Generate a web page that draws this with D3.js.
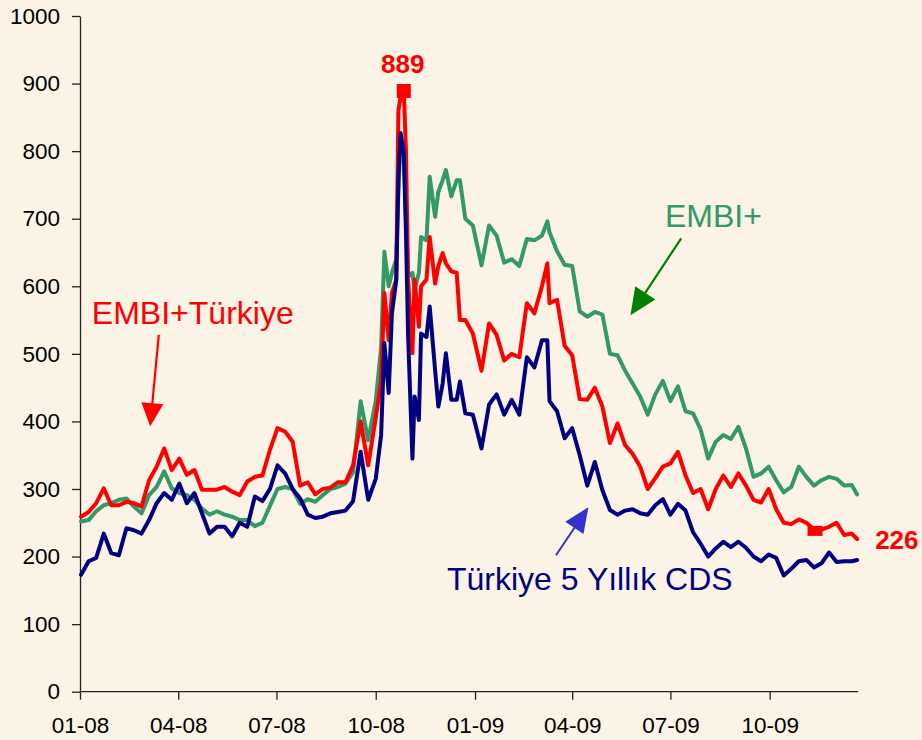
<!DOCTYPE html>
<html>
<head>
<meta charset="utf-8">
<script src="https://cdn.jsdelivr.net/npm/d3@7"></script>
<style>
html,body{margin:0;padding:0;background:#FAF3E6;}
svg{display:block;}
text{font-family:"Liberation Sans",Arial,Helvetica,sans-serif;}
</style>
</head>
<body>
<svg id="chart" width="922" height="740"></svg>
<script>
// ---------- DATA ----------
const dates = [
"2008-01-02","2008-01-09","2008-01-16","2008-01-23","2008-01-30","2008-02-06","2008-02-13","2008-02-20","2008-02-27","2008-03-05",
"2008-03-12","2008-03-19","2008-03-26","2008-04-02","2008-04-09","2008-04-16","2008-04-23","2008-04-30","2008-05-07","2008-05-14",
"2008-05-21","2008-05-28","2008-06-04","2008-06-11","2008-06-18","2008-06-25","2008-07-02","2008-07-09","2008-07-16","2008-07-23",
"2008-07-30","2008-08-06","2008-08-13","2008-08-20","2008-08-27","2008-09-03","2008-09-10","2008-09-17","2008-09-24","2008-10-01",
"2008-10-06","2008-10-09","2008-10-13","2008-10-16","2008-10-20","2008-10-22","2008-10-24","2008-10-27","2008-10-29","2008-10-31",
"2008-11-04","2008-11-06","2008-11-10","2008-11-12","2008-11-17","2008-11-20","2008-11-25","2008-11-28",
"2008-12-02","2008-12-05","2008-12-10","2008-12-15","2008-12-18","2008-12-23","2008-12-30",
"2009-01-07","2009-01-14","2009-01-21","2009-01-28","2009-02-04","2009-02-11","2009-02-18","2009-02-25",
"2009-03-04","2009-03-09","2009-03-11","2009-03-18","2009-03-25","2009-04-01","2009-04-08","2009-04-15","2009-04-22","2009-04-29",
"2009-05-06","2009-05-13","2009-05-20","2009-05-27","2009-06-03","2009-06-10","2009-06-17","2009-06-24",
"2009-07-01","2009-07-08","2009-07-15","2009-07-22","2009-07-29","2009-08-05","2009-08-12","2009-08-19","2009-08-26",
"2009-09-02","2009-09-09","2009-09-16","2009-09-23","2009-09-30","2009-10-07","2009-10-14","2009-10-21","2009-10-28",
"2009-11-04","2009-11-11","2009-11-18","2009-11-25","2009-12-02","2009-12-09","2009-12-16","2009-12-21"
];

// EMBI+Türkiye
const embiTurkey = [
259,266,279,301,276,276,281,279,274,313,
333,360,328,345,321,328,299,299,299,303,
296,291,311,318,320,358,390,385,370,305,
310,292,300,302,310,310,335,400,335,405,
460,590,520,590,610,860,880,889,800,610,
501,610,540,600,610,673,604,630,
649,634,622,620,550,550,530,
475,545,528,490,500,495,575,560,
600,634,575,580,512,498,433,432,450,422,
368,397,365,352,333,300,316,333,
338,355,320,294,300,270,300,320,303,
323,305,284,280,300,270,250,248,255,
250,240,240,244,250,232,234,226
];

// EMBI+
const embiPlus = [
252,254,267,276,279,284,286,274,264,291,
303,326,301,294,291,284,271,262,267,262,
259,254,254,245,250,275,300,303,300,278,
285,281,291,300,303,308,325,430,372,430,
510,651,600,620,640,740,820,800,700,614,
620,595,620,673,668,762,703,740,
757,772,733,757,757,700,690,
631,690,675,635,640,630,670,668,
675,696,680,652,632,630,563,555,562,558,
500,498,475,456,437,410,440,460,
430,452,415,412,388,345,370,380,374,
392,360,318,323,333,313,295,303,333,
318,305,313,318,315,305,306,292
];

// Türkiye 5 Yıllık CDS
const cds5y = [
173,193,198,234,205,202,242,239,234,254,
279,294,284,308,279,294,264,234,244,244,
230,250,244,289,282,300,335,323,300,286,
262,257,259,264,266,268,282,355,284,315,
380,516,442,560,609,760,827,797,680,526,
345,437,402,530,525,570,476,422,
456,501,432,432,459,412,410,
360,425,440,410,432,410,495,480,
520,520,430,415,375,390,350,305,340,298,
269,262,268,270,264,262,276,285,
262,278,268,236,219,200,212,222,214,
222,213,200,193,203,198,172,182,193,
195,184,190,206,192,193,193,195
];

const yTicks = [0,100,200,300,400,500,600,700,800,900,1000];
const xTickDates = ["2008-01-01","2008-04-01","2008-07-01","2008-10-01","2009-01-01","2009-04-01","2009-07-01","2009-10-01"];
const xTickLabels = ["01-08","04-08","07-08","10-08","01-09","04-09","07-09","10-09"];

const seriesNames = ["EMBI+","EMBI+Türkiye","Türkiye 5 Yıllık CDS"];
const seriesColors = ["#339966","#FF0000","#000080"];

// annotations (in data space)
const peakDate = "2008-10-27", peakValue = 889;
const lowMarkDate = "2009-11-12", lowMarkValue = 238;
const lastValue = 226;

// ---------- CHART ----------
const parse = d3.utcParse("%Y-%m-%d");
const svg = d3.select("#chart");
const W = 922, H = 740;
svg.append("rect").attr("width",W).attr("height",H).attr("fill","#FAF3E6");

const x = d3.scaleUtc()
  .domain([parse("2008-01-01"), parse("2009-10-01")])
  .range([80, 769.7]);
const y = d3.scaleLinear().domain([0,1000]).range([691.7, 16]);

const axisColor = "#222";

// Y axis
const gy = svg.append("g").attr("transform","translate(80,0)")
  .call(d3.axisLeft(y).tickValues(yTicks).tickSize(8).tickSizeOuter(0).tickPadding(12).tickFormat(d3.format("d")));
gy.selectAll("path").attr("stroke",axisColor).attr("stroke-width",1.3);
gy.selectAll("line").attr("stroke",axisColor).attr("stroke-width",1.3);
gy.selectAll("text").attr("font-size",22.5).attr("fill","#000")
  .style("font-family",'"Liberation Sans",Arial,sans-serif');

// X axis
const gx = svg.append("g").attr("transform","translate(0,691.7)")
  .call(d3.axisBottom(x).tickValues(xTickDates.map(parse)).tickSize(8).tickSizeOuter(0).tickPadding(17)
    .tickFormat((d,i)=>xTickLabels[i]));
gx.select("path.domain").remove();
gx.selectAll("line").attr("stroke",axisColor).attr("stroke-width",1.3);
gx.selectAll("text").attr("font-size",22.5).attr("fill","#000")
  .style("font-family",'"Liberation Sans",Arial,sans-serif');
const lastDate = parse(dates[dates.length-1]);
svg.append("line")
  .attr("x1",x.range()[0]).attr("x2",x(lastDate)+1)
  .attr("y1",y(0)).attr("y2",y(0))
  .attr("stroke",axisColor).attr("stroke-width",1.3);

// Series
const series = [embiPlus, embiTurkey, cds5y].map((vals,i)=>({
  name: seriesNames[i], color: seriesColors[i],
  values: vals.map((v,j)=>({date: parse(dates[j]), v}))
}));
const line = d3.line().x(d=>x(d.date)).y(d=>y(d.v)).curve(d3.curveLinear);
svg.append("g").selectAll("path").data(series).join("path")
  .attr("d", d=>line(d.values))
  .attr("fill","none")
  .attr("stroke", d=>d.color)
  .attr("stroke-width",4)
  .attr("stroke-linejoin","round")
  .attr("stroke-linecap","round");

// Markers
svg.append("rect")
  .attr("x", x(parse(peakDate))-7).attr("y", y(peakValue)-7)
  .attr("width",14).attr("height",14).attr("fill","#FF0000");
svg.append("rect")
  .attr("x", x(parse(lowMarkDate))-7.5).attr("y", y(lowMarkValue)-5)
  .attr("width",15).attr("height",10).attr("fill","#FF0000");

// Value labels
svg.append("text").attr("x", x(parse(peakDate))-1).attr("y", y(peakValue)-18)
  .attr("text-anchor","middle").attr("font-size",26).attr("font-weight","bold")
  .attr("fill","#FF0000").text(String(peakValue));
svg.append("text").attr("x", x(lastDate)+18).attr("y", y(lastValue)+10)
  .attr("font-size",26).attr("font-weight","bold")
  .attr("fill","#FF0000").text(String(lastValue));

// Series labels
const labels = [
  {text:"EMBI+Türkiye", date:"2008-01-12", v:544, color:"#FF0000"},
  {text:"EMBI+", date:"2009-06-26", v:688, color:"#339966"},
  {text:"Türkiye 5 Yıllık CDS", date:"2008-12-06", v:150, color:"#000080"}
];
svg.append("g").selectAll("text").data(labels).join("text")
  .attr("x", d=>x(parse(d.date))).attr("y", d=>y(d.v))
  .attr("font-size",32).attr("fill", d=>d.color).text(d=>d.text);

// Arrows
const arrows = [
  {from:["2008-03-14",528], to:["2008-03-06",393], color:"#FF0000", len:23, half:11, w:2.2},
  {from:["2009-07-11",671], to:["2009-05-25",557], color:"#008000", len:27, half:12, w:2.2},
  {from:["2009-03-17",202], to:["2009-04-16",273], color:"#3333CC", len:25, half:11, w:2}
];
arrows.forEach(a=>{
  const x1 = x(parse(a.from[0])), y1 = y(a.from[1]);
  const x2 = x(parse(a.to[0])), y2 = y(a.to[1]);
  const dx = x2-x1, dy = y2-y1, L = Math.hypot(dx,dy);
  const ux = dx/L, uy = dy/L;
  const bx = x2 - ux*a.len, by = y2 - uy*a.len;
  svg.append("line").attr("x1",x1).attr("y1",y1).attr("x2",bx+ux*2).attr("y2",by+uy*2)
    .attr("stroke",a.color).attr("stroke-width",a.w);
  svg.append("polygon")
    .attr("points", [[x2,y2],[bx - uy*a.half, by + ux*a.half],[bx + uy*a.half, by - ux*a.half]].map(p=>p.join(",")).join(" "))
    .attr("fill",a.color);
});
</script>
</body>
</html>
